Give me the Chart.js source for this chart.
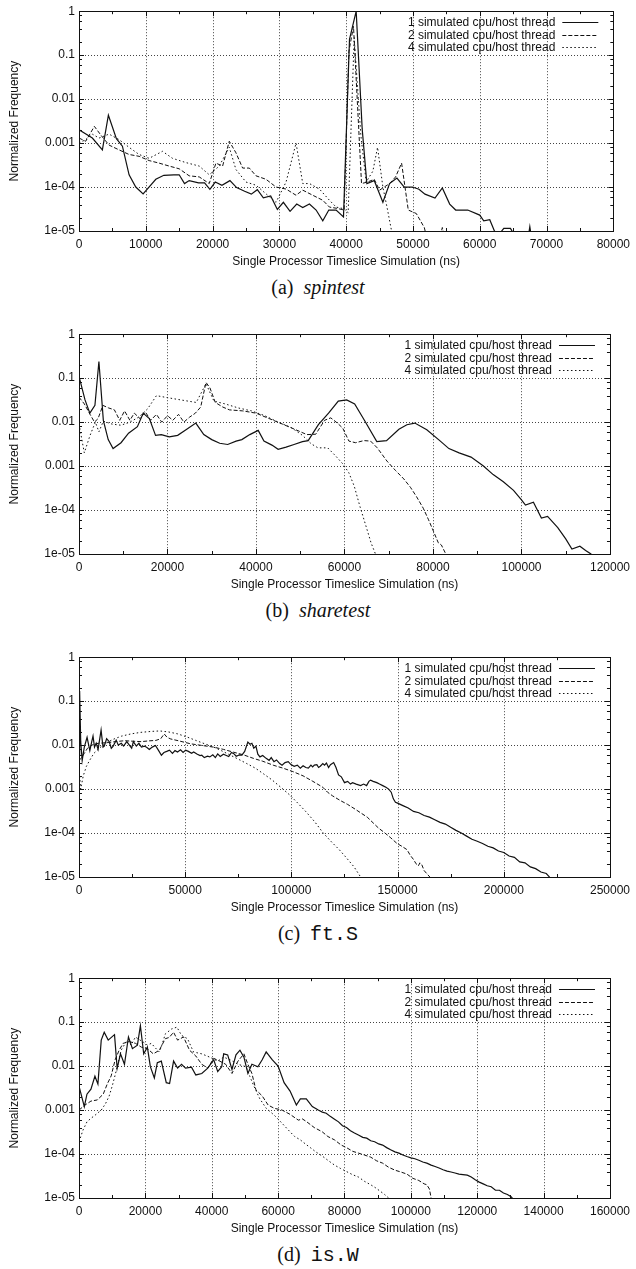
<!DOCTYPE html>
<html>
<head>
<meta charset="utf-8">
<script src="https://cdn.jsdelivr.net/npm/chart.js@4/dist/chart.umd.min.js"></script>
<style>
  body { margin: 0; background: #fff; }
  #page { position: relative; width: 636px; height: 1269px; }
  .panel { position: absolute; left: 0; width: 636px; height: 323px; }
  .panel canvas { position: absolute; left: 0; top: 0; }
  .cap { position: absolute; left: 0; top: 275px; width: 636px; height: 24px; line-height: 24px;
         text-align: center; font-family: "Liberation Serif", "DejaVu Serif", serif; font-size: 20px; color: #111; }
  .cap i { margin-left: 10px; }
  .cap .tt { margin-left: 10px; font-family: "Liberation Mono", "DejaVu Sans Mono", monospace; font-size: 20px; }
</style>
</head>
<body>
<div id="page">
  <div class="panel" style="top:0px"><canvas id="c0" width="636" height="271"></canvas><div class="cap">(a)<i>spintest</i></div></div>
  <div class="panel" style="top:323px"><canvas id="c1" width="636" height="271"></canvas><div class="cap">(b)<i>sharetest</i></div></div>
  <div class="panel" style="top:646px"><canvas id="c2" width="636" height="271"></canvas><div class="cap">(c)<span class="tt">ft.S</span></div></div>
  <div class="panel" style="top:967px"><canvas id="c3" width="636" height="271"></canvas><div class="cap">(d)<span class="tt">is.W</span></div></div>
</div>
<script>
// legend labels and axis text
const seriesLabels = ['1 simulated cpu/host thread', '2 simulated cpu/host thread', '4 simulated cpu/host thread'];
const xTitle = 'Single Processor Timeslice Simulation (ns)';
const yTitle = 'Normalized Frequency';
const yTickValues = [1e-5, 1e-4, 1e-3, 1e-2, 1e-1, 1];
const yTickLabels = ['1e-05', '1e-04', '0.001', '0.01', '0.1', '1'];
const xMaxes = [80000, 120000, 250000, 160000];
const xSteps = [10000, 20000, 50000, 20000];

// (a) spintest  [ns, frequency]
const spin1 = [[0,0.002],[2000,0.0013],[3500,0.0007],[4400,0.0043],[5600,0.00126],[6500,0.00085],[7500,0.00019],[8500,0.0001],[9600,0.00007],[11500,0.00015],[12700,0.000185],[14200,0.00019],[15000,0.00019],[15800,0.00012],[16500,0.00014],[17900,0.000125],[18800,0.000125],[19600,0.000089],[20400,0.00013],[21400,0.00011],[22600,0.00014],[23600,0.000097],[24800,0.00008],[25800,0.000069],[26700,0.000087],[27600,0.000057],[28700,0.000063],[29700,0.000031],[30600,0.000045],[31600,0.000028],[32600,0.000041],[33500,0.000034],[34500,0.000041],[35500,0.00003],[36500,0.000017],[37400,0.00003],[38500,0.00003],[39600,0.000021],[40500,0.23],[41500,1.0],[42400,0.0021],[43100,0.00012],[44200,0.00014],[45500,0.000045],[46500,0.00012],[47600,0.00016],[48700,0.0001],[49900,0.0001],[50900,0.000089],[51800,0.000069],[53300,0.000056],[54400,0.000095],[55500,0.000041],[56400,0.00003],[58200,0.00003],[60000,0.000023],[60600,0.000017],[61500,0.000018],[62200,0.00001],[62800,0.000008],[63600,0.0000115],[64600,0.0000115],[65200,0.000008],[67300,0.000008],[67500,0.0000125],[67700,0.000008]];
const spin2 = [[0,0.0013],[1000,0.0011],[2300,0.0024],[3300,0.0015],[4500,0.0009],[6000,0.0007],[7500,0.00055],[9000,0.0005],[10500,0.0004],[12000,0.00035],[13500,0.0003],[15000,0.00026],[16500,0.00018],[18000,0.00017],[19500,0.00012],[20500,0.00035],[21500,0.0003],[22500,0.0011],[23500,0.0006],[24500,0.00027],[25500,0.00027],[26500,0.00018],[28000,0.00015],[29500,0.0001],[31000,0.00009],[32500,0.000065],[33500,0.000085],[35000,0.000065],[36500,0.00005],[37500,0.000035],[38500,0.000033],[39700,0.00003],[40400,0.12],[41100,0.45],[42300,0.00012],[43200,0.00013],[44200,0.00015],[45000,0.000085],[46500,0.00012],[47400,0.00017],[48300,0.00035],[49300,0.00003],[50500,0.000025],[51700,0.000012],[52300,0.000005],[53800,0.000005],[54400,0.000012],[55000,0.000005]];
const spin4 = [[0,0.001],[1000,0.0012],[2000,0.0016],[3000,0.0013],[4500,0.0016],[6000,0.0012],[7500,0.0008],[9000,0.00055],[10500,0.00045],[12500,0.00065],[14000,0.00045],[16000,0.00036],[18000,0.0003],[19500,0.00019],[21000,0.0003],[22500,0.0008],[23500,0.00025],[25000,0.00013],[26500,0.00011],[28000,0.00007],[29500,0.000045],[31000,0.00013],[32500,0.001],[33500,0.00012],[34500,0.00012],[36000,0.00009],[37500,0.00005],[38500,0.000035],[39700,0.000032],[40300,0.000026],[41200,0.25],[42200,0.0015],[43000,0.00013],[44000,0.00023],[44700,0.0008],[45500,0.0001],[46200,0.00003],[46800,0.00001],[47200,0.000005]];

// (b) sharetest
const share1 = [[0,0.11],[1360,0.032],[2450,0.016],[3600,0.024],[4500,0.24],[5500,0.011],[6600,0.004],[7700,0.0025],[9500,0.0034],[11200,0.0056],[13200,0.0079],[14500,0.016],[15900,0.012],[17300,0.005],[18600,0.0052],[20400,0.0046],[22300,0.005],[24100,0.0066],[26400,0.0095],[28200,0.0052],[30000,0.004],[31800,0.0033],[33600,0.0031],[35500,0.0037],[36800,0.004],[38600,0.0052],[40500,0.0065],[41800,0.0037],[43600,0.003],[45000,0.0024],[46800,0.0027],[48600,0.0031],[50500,0.0036],[51800,0.0038],[54100,0.0088],[56400,0.016],[58600,0.03],[60500,0.032],[62300,0.026],[64500,0.011],[67300,0.0036],[69500,0.0038],[72300,0.0069],[74100,0.0087],[75900,0.0095],[78600,0.0067],[81400,0.0039],[83600,0.0025],[85900,0.002],[88600,0.0016],[91400,0.001],[93600,0.00064],[95900,0.00044],[98200,0.00028],[100000,0.00017],[100900,0.00013],[102700,0.00015],[104500,0.000066],[105900,0.000072],[108200,0.00004],[110000,0.000022],[111400,0.000013],[113200,0.000015],[114500,0.000012],[115700,0.00001],[116300,0.000007]];
const share2 = [[0,0.037],[1200,0.026],[2500,0.015],[3500,0.01],[4300,0.012],[5400,0.024],[6700,0.021],[8000,0.019],[9200,0.011],[10300,0.018],[11500,0.011],[12500,0.016],[13800,0.012],[15000,0.017],[16200,0.011],[17500,0.015],[18700,0.01],[20000,0.014],[21200,0.011],[22500,0.015],[23700,0.01],[25000,0.013],[26300,0.016],[27500,0.022],[28700,0.08],[29600,0.06],[30800,0.028],[32500,0.022],[34000,0.019],[37000,0.018],[40000,0.016],[43000,0.012],[46000,0.009],[49000,0.0067],[51500,0.0052],[53500,0.0053],[55500,0.011],[56900,0.0125],[58400,0.0095],[59600,0.0073],[61000,0.0037],[62500,0.0034],[64400,0.0038],[65900,0.0037],[67400,0.0026],[69600,0.0013],[71500,0.0008],[73400,0.00051],[74900,0.00033],[76300,0.0002],[77800,0.00011],[79000,0.00006],[80100,0.000033],[81200,0.000018],[81900,0.000016],[82900,0.00001],[83500,0.000005]];
const share4 = [[0,0.009],[1200,0.002],[2500,0.005],[3700,0.01],[4500,0.006],[5500,0.0105],[7500,0.009],[9500,0.0085],[11500,0.01],[13500,0.013],[15500,0.02],[17500,0.04],[20000,0.036],[23000,0.032],[26500,0.028],[28700,0.075],[30500,0.03],[33000,0.026],[36000,0.021],[39000,0.018],[42000,0.014],[45000,0.01],[48000,0.0075],[50500,0.005],[52500,0.0032],[54000,0.0026],[56200,0.0026],[58000,0.0017],[59700,0.0011],[61000,0.0007],[62200,0.00035],[63500,0.00012],[64800,0.000045],[66000,0.000018],[67000,0.00001],[67500,0.000006]];

// (c) ft.S
const fts1 = [[0,0.006],[300,0.17],[800,0.012],[1500,0.0045],[2500,0.009],[3800,0.015],[5100,0.0075],[6000,0.012],[6600,0.016],[7300,0.009],[8100,0.011],[9000,0.008],[10400,0.022],[11300,0.009],[11900,0.0095],[13000,0.014],[14200,0.012],[15200,0.0085],[16100,0.0095],[17500,0.013],[18500,0.01],[19900,0.011],[21000,0.0095],[22500,0.012],[23700,0.01],[24800,0.0085],[25600,0.012],[27000,0.0095],[28200,0.011],[29400,0.009],[30800,0.0095],[32000,0.0088],[33100,0.008],[34500,0.009],[36000,0.0098],[37500,0.0075],[38800,0.0059],[40000,0.0068],[41300,0.0072],[42600,0.0077],[44000,0.0065],[45200,0.0075],[46400,0.007],[47800,0.0078],[49000,0.0068],[50200,0.0077],[51500,0.0072],[53000,0.0065],[54000,0.007],[55500,0.0063],[57000,0.0058],[57800,0.0059],[59000,0.0052],[60500,0.0056],[61600,0.0054],[63000,0.006],[64200,0.0052],[65300,0.0063],[66500,0.0055],[68000,0.0062],[69100,0.0059],[70500,0.0055],[71800,0.0068],[72900,0.0064],[74000,0.0056],[75500,0.006],[76700,0.0059],[78000,0.0072],[79500,0.0117],[80500,0.0105],[81400,0.011],[82300,0.0085],[83300,0.0095],[84200,0.0062],[85200,0.0054],[86500,0.0058],[88100,0.005],[89500,0.0045],[90500,0.0052],[91800,0.0042],[93000,0.0046],[94500,0.0038],[95600,0.0035],[97000,0.004],[98500,0.0042],[99800,0.0036],[101300,0.0033],[102800,0.0035],[104200,0.003],[105500,0.0034],[106800,0.0031],[108000,0.003],[109200,0.0035],[110000,0.0032],[110800,0.0035],[112000,0.0036],[112800,0.0031],[113600,0.0033],[114800,0.0038],[115600,0.0035],[116500,0.0039],[117500,0.0031],[118400,0.0036],[119900,0.004],[121000,0.0031],[122200,0.0021],[123500,0.0019],[125000,0.0014],[126500,0.0015],[127800,0.0013],[128800,0.0014],[130500,0.0013],[132600,0.0012],[134000,0.0013],[135400,0.0012],[136500,0.0015],[137300,0.0016],[138500,0.0015],[140200,0.0014],[141500,0.0013],[143000,0.0012],[144500,0.0011],[145800,0.001],[147000,0.00085],[148000,0.0006],[149000,0.0005],[150000,0.00048],[152500,0.00042],[155000,0.00037],[157500,0.00031],[160000,0.00029],[162500,0.00025],[165000,0.00023],[167500,0.0002],[170000,0.000175],[172500,0.00016],[175000,0.000135],[177500,0.000115],[180000,0.0001],[182500,0.000085],[185000,0.000072],[187500,0.000065],[190000,0.000058],[192500,0.00005],[195000,0.000046],[197500,0.000039],[200000,0.000036],[202500,0.00003],[205000,0.000028],[207500,0.000022],[210000,0.000021],[212500,0.000017],[215000,0.0000155],[217500,0.000013],[220000,0.000012],[221500,0.00001],[222500,0.000007]];
const fts2 = [[0,0.0045],[1000,0.005],[2500,0.0065],[4000,0.0085],[6000,0.01],[9000,0.011],[13700,0.0114],[17000,0.012],[21500,0.0126],[25000,0.0123],[29200,0.012],[33000,0.0125],[36200,0.0128],[38500,0.014],[40100,0.018],[41500,0.015],[43200,0.0138],[47000,0.0125],[52600,0.0107],[58000,0.0098],[63400,0.009],[68000,0.008],[72800,0.0069],[77500,0.006],[82100,0.005],[86500,0.0043],[91400,0.0035],[96000,0.003],[100700,0.0025],[105500,0.002],[110100,0.0015],[114800,0.0011],[117000,0.00085],[119400,0.0007],[123000,0.00055],[126400,0.00045],[130000,0.00035],[133000,0.00028],[135700,0.00023],[138500,0.00017],[141000,0.00013],[143500,0.000105],[146500,0.00008],[149700,0.000058],[152000,0.00005],[154400,0.000042],[156000,0.000031],[157500,0.000025],[158700,0.00002],[159800,0.000018],[160500,0.000021],[161400,0.000019],[162500,0.000014],[163700,0.000012],[165200,0.00001],[166000,0.000007]];
const fts4 = [[0,0.003],[800,0.001],[2000,0.002],[3500,0.0033],[5000,0.0045],[7000,0.0065],[9500,0.0085],[12500,0.011],[16000,0.0135],[20000,0.016],[24500,0.018],[29000,0.0195],[34000,0.0205],[38000,0.021],[42000,0.02],[46500,0.018],[51000,0.0152],[55000,0.0128],[59000,0.0108],[63000,0.0092],[67000,0.0075],[71000,0.006],[75000,0.0048],[79000,0.0038],[83000,0.003],[87000,0.0022],[91000,0.0016],[95000,0.0011],[99000,0.00075],[103000,0.00048],[107000,0.0003],[111000,0.00018],[115000,0.0001],[119000,0.000062],[122500,0.000042],[126000,0.000027],[129500,0.000017],[132600,0.00001],[134000,0.000007]];

// (d) is.W
const isw1 = [[0,0.0035],[1600,0.0012],[2400,0.0023],[3600,0.003],[4800,0.0059],[5700,0.0039],[6700,0.039],[7600,0.059],[8800,0.039],[10700,0.052],[11500,0.0089],[12500,0.019],[13700,0.011],[14900,0.046],[16100,0.025],[17600,0.03],[18500,0.083],[19500,0.019],[20600,0.027],[21500,0.0097],[22700,0.0054],[23600,0.012],[24800,0.013],[26300,0.0042],[27300,0.004],[28500,0.013],[29700,0.009],[30900,0.011],[32100,0.009],[33900,0.0095],[35200,0.0063],[37000,0.0068],[38800,0.009],[40600,0.014],[41800,0.0075],[43000,0.0097],[43600,0.019],[44800,0.018],[46100,0.0084],[47300,0.018],[48500,0.023],[49700,0.016],[50900,0.0068],[52100,0.011],[53900,0.0097],[55200,0.014],[56400,0.021],[58200,0.014],[60000,0.01],[61800,0.0042],[63600,0.0027],[65500,0.0013],[66700,0.0018],[68500,0.0018],[70300,0.0012],[72100,0.001],[73300,0.0009],[74500,0.00085],[75700,0.00072],[77000,0.00062],[78200,0.00054],[79400,0.00044],[80600,0.0004],[81800,0.00034],[83000,0.0003],[84200,0.00027],[85500,0.00024],[86700,0.00023],[87900,0.0002],[89100,0.00019],[90300,0.00017],[91500,0.00016],[92700,0.00014],[93900,0.000125],[95200,0.000112],[96400,0.000105],[97600,0.000095],[98800,0.000088],[100000,0.000082],[101200,0.000078],[102400,0.000072],[103600,0.000066],[104800,0.000062],[106100,0.000056],[107300,0.000052],[108500,0.000048],[109700,0.000044],[110900,0.000041],[112100,0.000039],[113300,0.000037],[114500,0.000035],[115700,0.000034],[117000,0.000033],[118200,0.00003],[119400,0.000026],[120600,0.000023],[121800,0.000021],[123000,0.000019],[124200,0.000018],[125500,0.000015],[126700,0.000015],[127900,0.000013],[129100,0.000012],[130300,0.0000105],[131000,0.000009]];
const isw2 = [[0,0.001],[1800,0.0013],[3600,0.0016],[5500,0.0017],[7300,0.0023],[8500,0.0039],[9700,0.006],[10900,0.014],[12100,0.023],[13300,0.033],[15200,0.036],[17000,0.033],[18800,0.027],[20600,0.025],[22400,0.019],[24200,0.023],[26000,0.042],[27200,0.045],[28500,0.059],[29700,0.039],[31500,0.046],[33300,0.023],[35200,0.017],[37000,0.011],[38800,0.009],[40600,0.015],[42400,0.013],[44200,0.011],[46100,0.0068],[47900,0.013],[49700,0.019],[50900,0.011],[52100,0.0068],[53300,0.0029],[55200,0.0021],[57000,0.0013],[58800,0.0011],[61200,0.001],[63600,0.0008],[66100,0.00059],[67300,0.00063],[68500,0.00055],[70900,0.0004],[73300,0.00032],[75000,0.00025],[77000,0.00021],[79000,0.00016],[80600,0.00014],[82500,0.000115],[84200,0.000105],[86000,0.000095],[87900,0.000085],[89700,0.00007],[91500,0.000062],[93300,0.00005],[95200,0.000043],[97000,0.000039],[98800,0.000035],[100600,0.000028],[102400,0.000025],[104000,0.000021],[104800,0.00002],[105600,0.000016],[106100,0.00001],[106600,0.000006]];
const isw4 = [[0,0.00019],[1200,0.00035],[2400,0.00054],[3600,0.00065],[4800,0.00076],[6700,0.001],[8000,0.0014],[9100,0.0021],[10000,0.0035],[10900,0.0063],[11800,0.012],[12700,0.023],[14500,0.039],[15700,0.03],[17000,0.046],[18200,0.04],[19400,0.035],[20600,0.03],[21800,0.033],[23000,0.026],[24200,0.021],[25100,0.032],[26000,0.054],[27900,0.07],[29500,0.077],[30900,0.05],[32700,0.042],[34500,0.021],[37000,0.019],[39400,0.016],[41800,0.013],[43600,0.016],[45500,0.014],[47900,0.011],[50300,0.0097],[51500,0.0058],[52700,0.0035],[54500,0.0018],[56400,0.0011],[58800,0.00077],[61200,0.0005],[63600,0.00032],[65000,0.00025],[66700,0.00021],[68200,0.00017],[69700,0.00014],[71500,0.00011],[73300,0.00009],[75000,0.000072],[77000,0.000056],[78800,0.000047],[80600,0.00004],[82400,0.000034],[84200,0.00003],[86000,0.000024],[87900,0.00002],[89400,0.000017],[90900,0.000014],[92100,0.000012],[93300,0.00001],[94000,0.000007]];

const FONT = { family: '"Liberation Sans", Arial, sans-serif', size: 12 };
const INK = '#111';

// line styles for the three thread counts
const lineStyles = [
    { borderWidth: 1.2, borderDash: [] },
    { borderWidth: 1, borderDash: [4, 2] },
    { borderWidth: 1, borderDash: [1.5, 2.5] }
];

// gnuplot-like frame: dotted grid, inward ticks on all sides, legend inside top right
const gnuplotFrame = {
    id: 'gnuplotFrame',
    beforeDatasetsDraw(chart) {
        const { ctx, chartArea: a, scales: { x, y } } = chart;
        ctx.save();
        ctx.strokeStyle = '#444';
        ctx.lineWidth = 1;
        ctx.setLineDash([1, 2]);
        ctx.beginPath();
        x.ticks.forEach(t => {
            if (t.value <= x.min || t.value >= x.max) return;
            const px = Math.round(x.getPixelForValue(t.value)) + 0.5;
            ctx.moveTo(px, a.top); ctx.lineTo(px, a.bottom);
        });
        y.ticks.forEach(t => {
            if (t.value <= y.min || t.value >= y.max) return;
            const py = Math.round(y.getPixelForValue(t.value)) + 0.5;
            ctx.moveTo(a.left, py); ctx.lineTo(a.right, py);
        });
        ctx.stroke();
        ctx.restore();
    },
    afterDatasetsDraw(chart) {
        const { ctx, chartArea: a, scales: { x, y } } = chart;
        const step = chart.options.scales.x.ticks.stepSize;
        ctx.save();
        ctx.strokeStyle = INK;
        ctx.lineWidth = 1;
        ctx.setLineDash([]);
        ctx.beginPath();
        // x ticks, major and one minor between
        for (let v = 0; v <= x.max + 1; v += step / 2) {
            const len = (Math.round(v / step) * step === v) ? 5 : 3;
            const px = Math.round(x.getPixelForValue(v)) + 0.5;
            ctx.moveTo(px, a.bottom); ctx.lineTo(px, a.bottom - len);
            ctx.moveTo(px, a.top); ctx.lineTo(px, a.top + len);
        }
        // y ticks, decades plus 2,4,6,8
        yTickValues.forEach((d, i) => {
            const py = Math.round(y.getPixelForValue(d)) + 0.5;
            ctx.moveTo(a.left, py); ctx.lineTo(a.left + 5, py);
            ctx.moveTo(a.right, py); ctx.lineTo(a.right - 5, py);
            if (i === yTickValues.length - 1) return;
            [2, 4, 6, 8].forEach(m => {
                const pm = Math.round(y.getPixelForValue(d * m)) + 0.5;
                ctx.moveTo(a.left, pm); ctx.lineTo(a.left + 3, pm);
                ctx.moveTo(a.right, pm); ctx.lineTo(a.right - 3, pm);
            });
        });
        ctx.stroke();
        ctx.strokeRect(Math.round(a.left) + 0.5, Math.round(a.top) + 0.5,
            Math.round(a.right - a.left), Math.round(a.bottom - a.top));

        // legend
        ctx.font = `${FONT.size}px ${FONT.family}`;
        ctx.fillStyle = INK;
        ctx.textAlign = 'right';
        ctx.textBaseline = 'middle';
        chart.data.datasets.forEach((ds, i) => {
            const ly = Math.round(a.top + 11 + i * 12.5) + 0.5;
            ctx.fillText(ds.label, a.right - 58, ly);
            ctx.lineWidth = ds.borderWidth;
            ctx.setLineDash(ds.borderDash);
            ctx.beginPath();
            ctx.moveTo(a.right - 51, ly); ctx.lineTo(a.right - 15, ly);
            ctx.stroke();
        });
        ctx.restore();
    }
};

function makePanel(id, xMax, xStep, series) {
    const xTicks = [];
    for (let v = 0; v <= xMax; v += xStep) xTicks.push(v);

    new Chart(document.getElementById(id), {
        type: 'line',
        data: {
            datasets: series.map((s, i) => ({
                label: seriesLabels[i],
                data: s.map(([x, y]) => ({ x, y })),
                borderColor: INK,
                borderWidth: lineStyles[i].borderWidth,
                borderDash: lineStyles[i].borderDash,
                pointRadius: 0,
                tension: 0,
                fill: false
            }))
        },
        options: {
            responsive: false,
            animation: false,
            events: [],
            layout: { padding: { top: 6, right: 21, left: 0, bottom: 0 } },
            plugins: { legend: { display: false }, tooltip: { enabled: false } },
            scales: {
                x: {
                    type: 'linear', min: 0, max: xMax,
                    afterBuildTicks: s => { s.ticks = xTicks.map(v => ({ value: v })); },
                    afterFit: s => { s.height = 40; },
                    grid: { display: false, drawTicks: false },
                    border: { display: false },
                    ticks: { stepSize: xStep, padding: 6, color: INK, font: FONT, maxRotation: 0, autoSkip: false,
                             callback: v => String(v) },
                    title: { display: true, text: xTitle, color: INK, font: FONT, padding: { top: 2, bottom: 2 } }
                },
                y: {
                    type: 'logarithmic', min: 1e-5, max: 1,
                    afterBuildTicks: s => { s.ticks = yTickValues.map(v => ({ value: v })); },
                    afterFit: s => { s.width = 79; },
                    grid: { display: false, drawTicks: false },
                    border: { display: false },
                    ticks: { padding: 4, color: INK, font: FONT, autoSkip: false,
                             callback: (v, i) => yTickLabels[i] },
                    title: { display: true, text: yTitle, color: INK, font: FONT, padding: { top: 7, bottom: 7 } }
                }
            }
        },
        plugins: [gnuplotFrame]
    });
}

makePanel('c0', xMaxes[0], xSteps[0], [spin1, spin2, spin4]);
makePanel('c1', xMaxes[1], xSteps[1], [share1, share2, share4]);
makePanel('c2', xMaxes[2], xSteps[2], [fts1, fts2, fts4]);
makePanel('c3', xMaxes[3], xSteps[3], [isw1, isw2, isw4]);
</script>
</body>
</html>
